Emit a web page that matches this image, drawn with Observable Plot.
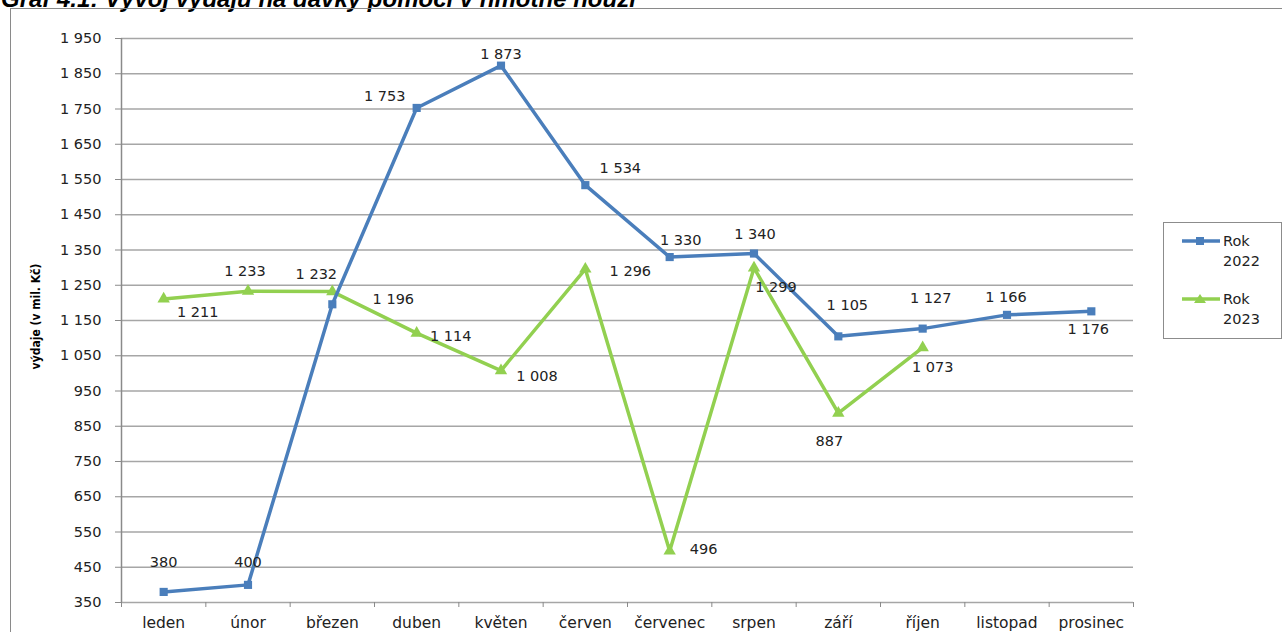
<!DOCTYPE html>
<html><head><meta charset="utf-8">
<script src="https://cdn.jsdelivr.net/npm/d3@7"></script>
<script src="https://cdn.jsdelivr.net/npm/@observablehq/plot@0.6"></script>
<style>
body{margin:0;background:#fff;overflow:hidden;}
#wrap{position:relative;width:1282px;height:632px;overflow:hidden;background:#fff;}
#title{position:absolute;left:1px;top:-15px;line-height:24px;font:bold italic 24px "Liberation Sans",Arial,sans-serif;white-space:nowrap;color:#000;}
#frame{position:absolute;left:10px;top:8px;width:1400px;height:700px;border-left:1.5px solid #8a8a8a;border-top:1.5px solid #8a8a8a;}
#chart{position:absolute;left:0;top:0;}
#legend{position:absolute;left:1163px;top:222px;width:117px;height:115px;border:1px solid #8c8c8c;background:#fff;font:14.5px "DejaVu Sans",Verdana,sans-serif;color:#222;}
.item{position:absolute;left:17px;display:flex;align-items:flex-start;}
.item span{line-height:20px;margin-left:2px;}
</style></head>
<body>
<div id="wrap">
  <div id="title">Graf 4.1: Vývoj výdajů na dávky pomoci v hmotné nouzi</div>
  <div id="frame"></div>
  <div id="chart"></div>
  <div id="legend"></div>
</div>
<script>
// ---- data ----
const months = ["leden","únor","březen","duben","květen","červen","červenec","srpen","září","říjen","listopad","prosinec"];
const rok2022 = [380, 400, 1196, 1753, 1873, 1534, 1330, 1340, 1105, 1127, 1166, 1176];
const rok2023 = [1211, 1233, 1232, 1114, 1008, 1296, 496, 1299, 887, 1073];
const yTicks = [350, 450, 550, 650, 750, 850, 950, 1050, 1150, 1250, 1350, 1450, 1550, 1650, 1750, 1850, 1950];
const seriesNames = ["Rok 2022", "Rok 2023"];
const yLabel = "výdaje (v mil. Kč)";

// label placement (offsets of the data labels, in px)
const offsets2022 = [[0,-30],[0,-23],[61,-5],[-32,-12],[0,-11],[35,-17],[11,-17],[1,-19],[9,-31],[8,-30],[-1,-18],[-3,18]];
const offsets2023 = [[34,13],[-3,-20],[-16,-17],[34,3],[36,6],[45,2],[34,-2],[22,19],[-9,28],[10,20]];

const colors = {"Rok 2022": "#4a7ebb", "Rok 2023": "#92d050"};
const symbols = {"Rok 2022": "square", "Rok 2023": "triangle"};

const fmt = d3.formatLocale({decimal: ",", thousands: " ", grouping: [3], currency: ["", ""]}).format(",d");

const rows2022 = rok2022.map((v, i) => ({x: i + 0.5, value: v, series: seriesNames[0], off: offsets2022[i]}));
const rows2023 = rok2023.map((v, i) => ({x: i + 0.5, value: v, series: seriesNames[1], off: offsets2023[i]}));

const labelFont = {fontSize: 14.5, fill: "#222"};

const labelMarks = [...rows2022, ...rows2023].map(r =>
  Plot.text([r], {x: "x", y: "value", text: d => fmt(d.value), dx: r.off[0], dy: r.off[1], ...labelFont})
);

const seriesMarks = (rows, name) => [
  Plot.line(rows, {x: "x", y: "value", stroke: colors[name], strokeWidth: 3.5}),
  Plot.dot(rows, {x: "x", y: "value", symbol: symbols[name], r: 4.6, fill: colors[name], stroke: "none"})
];

const chart = Plot.plot({
  width: 1282, height: 632,
  marginLeft: 121, marginRight: 149, marginTop: 38, marginBottom: 30,
  style: {fontFamily: "DejaVu Sans, Verdana, sans-serif", background: "transparent", overflow: "visible"},
  x: {type: "linear", domain: [0, months.length]},
  y: {domain: [350, 1950]},
  marks: [
    Plot.ruleY(yTicks, {stroke: "#a6a6a6", strokeWidth: 1.5}),
    Plot.ruleX([0], {stroke: "#8a8a8a", strokeWidth: 1.5}),
    Plot.axisY({ticks: yTicks, tickFormat: fmt, tickSize: 6, tickPadding: 14, stroke: "#8a8a8a", fontSize: 14.5, fill: "#222", label: null}),
    Plot.axisX({ticks: d3.range(months.length + 1), tickFormat: () => "", tickSize: 5, stroke: "#8a8a8a", label: null}),
    Plot.axisX({ticks: months.map((m, i) => i + 0.5), tickFormat: d => months[Math.floor(d)], tickSize: 0, tickPadding: 14, fontSize: 15.5, fill: "#222", label: null}),
    Plot.text([yLabel], {frameAnchor: "left", textAnchor: "middle", rotate: -90, dx: -85, dy: -4, text: d => d, fontWeight: "bold", fontSize: 12, fill: "#000", fontFamily: "DejaVu Sans Condensed, DejaVu Sans, sans-serif"}),
    ...seriesMarks(rows2023, seriesNames[1]),
    ...seriesMarks(rows2022, seriesNames[0]),
    ...labelMarks
  ]
});
document.getElementById("chart").appendChild(chart);

// legend
const legend = document.getElementById("legend");
seriesNames.forEach((name, k) => {
  const item = document.createElement("div");
  item.className = "item";
  item.style.top = (8 + k * 58) + "px";
  const sym = name === seriesNames[0]
    ? `<rect x="15" y="6" width="8" height="8" fill="${colors[name]}"/>`
    : `<path d="M19,5 L25,14 L13,14 Z" fill="${colors[name]}"/>`;
  item.innerHTML = `<svg width="40" height="20"><line x1="1" x2="39" y1="10" y2="10" stroke="${colors[name]}" stroke-width="3.5"/>${sym}</svg><span>${name.replace(" ", "<br>")}</span>`;
  legend.appendChild(item);
});
</script>
</body></html>
